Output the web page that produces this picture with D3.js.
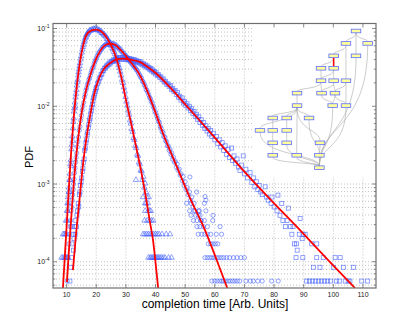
<!DOCTYPE html>
<html lang="en">
<head>
<meta charset="UTF-8">
<title>PDF of completion time</title>
<script src="https://d3js.org/d3.v7.min.js"></script>
<style>
  body { margin: 0; background: #fff; }
  text { font-family: "Liberation Sans", Arial, sans-serif; }
</style>
</head>
<body>
<div id="my_chart"></div>
<script>
// ---- data ----
var xTicks = [10, 20, 30, 40, 50, 60, 70, 80, 90, 100, 110];
var yExponents = [-4, -3, -2, -1];

// fitted curves [time, pdf]
var fitA = [[8.75,4.57e-5],[9.5,1.38e-4],[10.5,6.03e-4],[11.5,2.51e-3],[12.5,7.94e-3],[13.5,1.91e-2],
  [14.5,3.72e-2],[15.5,5.89e-2],[16.6,8.13e-2],[18.2,9.38e-2],[20,9.70e-2],[21.58,9.23e-2],[23.37,7.80e-2],
  [24.79,6.28e-2],[26.2,4.78e-2],[28.43,2.39e-2],[30.02,1.20e-2],[32.05,5.37e-3],[33.57,2.85e-3],
  [35.08,1.51e-3],[36.6,7.24e-4],[38.12,3.24e-4],[39.14,1.91e-4],[39.9,1.07e-4],[40.65,5.62e-5],[40.9,4.57e-5]];
var fitB = [[10.1,5.48e-5],[10.78,1.41e-4],[11.62,3.98e-4],[12.63,1.30e-3],[13.81,3.66e-3],[15.1,8.39e-3],
  [16.52,1.58e-2],[18.31,2.75e-2],[19.72,3.89e-2],[21.14,5.01e-2],[22.59,5.92e-2],[24.52,6.41e-2],
  [26.31,6.19e-2],[27.89,5.47e-2],[30.02,4.42e-2],[32.38,3.39e-2],[34.1,2.75e-2],[36,2.00e-2],[38,1.32e-2],
  [40.25,7.76e-3],[42.51,4.47e-3],[45,2.63e-3],[47.24,1.65e-3],[51.63,6.59e-4],[56.69,2.55e-4],
  [60.41,1.11e-4],[64.22,4.59e-5]];
var fitC = [[12.13,7.82e-5],[13.14,2.20e-4],[14.32,6.21e-4],[15.5,1.75e-3],[16.68,3.89e-3],[17.97,7.69e-3],
  [19.39,1.47e-2],[21.14,2.39e-2],[22.76,3.09e-2],[24.52,3.55e-2],[26.64,3.97e-2],[29.01,4.11e-2],
  [31.71,3.97e-2],[34.65,3.72e-2],[37.45,3.18e-2],[40.25,2.64e-2],[44.77,1.77e-2],[49.26,1.14e-2],
  [58.38,4.65e-3],[69.52,1.51e-3],[78.64,6.40e-4],[88.77,2.55e-4],[98.89,9.91e-5],[107.33,4.59e-5]];

// measured histograms [time, pdf]
var triA = [[8.3,1.13e-4],[8.8,1.13e-4],[8.8,2.26e-4],[9.2,2.26e-4],[9.3,1.13e-4],[9.6,1.13e-4],[9.6,2.26e-4],
  [9.8,3.39e-4],[10.0,1.13e-4],[10.0,2.26e-4],[10.1,4.52e-4],[10.2,3.39e-4],[10.3,5.65e-4],[10.4,1.13e-4],
  [10.4,4.52e-4],[10.5,6.78e-4],[10.6,5.65e-4],[10.7,7.91e-4],[10.8,9.04e-4],[10.9,7.91e-4],[11.0,1.13e-3],
  [11.1,1.36e-3],[11.2,1.13e-3],[11.3,1.81e-3],[11.4,2.03e-3],[11.5,1.7e-3],[11.6,2.8e-3],[11.75,3.2e-3],
  [11.9,4.1e-3],[12.0,3.6e-3],[12.1,5.2e-3],[12.25,6.3e-3],[12.4,7.0e-3],[12.5,8.6e-3],[12.65,9.5e-3],
  [12.8,1.12e-2],[12.9,1.0e-2],[13.0,1.3e-2],[13.15,1.45e-2],[13.3,1.62e-2],[13.45,1.85e-2],[13.6,2.05e-2],
  [13.75,2.2e-2],[13.9,2.5e-2],[14.05,2.75e-2],[14.2,3.0e-2],[14.35,3.3e-2],[14.5,3.6e-2],[14.7,4.0e-2],
  [14.9,4.4e-2],[15.1,4.9e-2],[15.3,5.4e-2],[15.5,5.8e-2],[15.7,6.2e-2],[15.9,6.7e-2],[16.1,7.0e-2],
  [16.3,7.5e-2],[16.5,7.8e-2],[16.7,8.2e-2],[16.9,8.5e-2],[17.1,8.8e-2],[17.3,8.9e-2],[17.6,9.2e-2],
  [17.9,9.5e-2],[18.2,9.4e-2],[18.5,9.7e-2],[18.8,9.6e-2],[19.1,9.9e-2],[19.4,9.7e-2],[19.7,1.0e-1],
  [20.0,9.7e-2],[20.3,9.9e-2],[20.6,9.5e-2],[20.9,9.6e-2],[21.2,9.2e-2],[21.5,9.3e-2],[21.8,8.8e-2],
  [22.1,8.8e-2],[22.4,8.4e-2],[22.7,8.4e-2],[23.0,8.0e-2],[23.3,7.9e-2],[23.6,7.4e-2],[23.9,7.3e-2],
  [24.2,6.8e-2],[24.5,6.7e-2],[24.8,6.2e-2],[25.1,6.0e-2],[25.4,5.6e-2],[25.7,5.4e-2],[26.0,5.0e-2],
  [26.3,4.7e-2],[26.6,4.3e-2],[26.9,4.0e-2],[27.2,3.7e-2],[27.5,3.4e-2],[27.8,3.1e-2],[28.1,2.8e-2],
  [28.4,2.5e-2],[28.7,2.2e-2],[29.0,2.0e-2],[29.3,1.75e-2],[29.6,1.55e-2],[29.9,1.32e-2],[30.2,1.15e-2],
  [30.5,1.02e-2],[30.8,8.8e-3],[31.1,7.8e-3],[31.4,6.6e-3],[31.7,6.0e-3],[32.0,5.1e-3],[32.3,4.7e-3],
  [32.6,3.9e-3],[32.9,3.7e-3],[33.2,3.1e-3],[33.5,2.9e-3],[33.8,2.4e-3],[34.1,2.3e-3],[34.4,1.9e-3],
  [34.7,1.8e-3],[35.0,1.5e-3],[35.3,1.47e-3],[35.6,1.13e-3],[35.9,1.24e-3],[36.2,9.04e-4],[36.5,1.02e-3],
  [36.8,7.91e-4],[37.1,6.78e-4],[37.4,5.65e-4],[37.7,6.78e-4],[38.0,4.52e-4],[33.4,1.13e-3],
  [35.8,6.78e-4],[36.5,5.65e-4],[36.8,5.65e-4],[36.3,3.39e-4],[37.2,3.39e-4],[38.0,3.39e-4],[38.6,3.39e-4],
  [39.2,3.39e-4],[36.5,4.52e-4],[37.5,4.52e-4],[38.4,4.52e-4],
  [35.8,2.26e-4],[36.4,2.26e-4],[37.0,2.26e-4],[37.6,2.26e-4],[38.2,2.26e-4],[38.8,2.26e-4],[39.4,2.26e-4],
  [40.0,2.26e-4],[40.6,2.26e-4],[41.2,2.26e-4],[42.2,2.26e-4],[43.6,2.26e-4],[44.9,2.26e-4],
  [37.6,1.13e-4],[38.2,1.13e-4],[38.6,1.13e-4],[39.0,1.13e-4],[39.4,1.13e-4],[39.8,1.13e-4],[40.2,1.13e-4],
  [40.6,1.13e-4],[41.0,1.13e-4],[41.5,1.13e-4],[42.0,1.13e-4],[42.6,1.13e-4],[43.2,1.13e-4],[44.4,1.13e-4],
  [45.4,1.13e-4]];

var circB = [[10.2,5.65e-5],[10.5,1.13e-4],[10.8,1.7e-4],[11.0,2.26e-4],[11.2,2.83e-4],[11.35,3.39e-4],
  [11.5,4.52e-4],[11.7,5.08e-4],[11.85,6.2e-4],[12.0,7.3e-4],[12.2,8.5e-4],[12.35,1.0e-3],[12.5,1.15e-3],
  [12.7,1.4e-3],[12.85,1.6e-3],[13.0,1.9e-3],[13.2,2.2e-3],[13.4,2.5e-3],[13.6,3.0e-3],[13.8,3.5e-3],
  [14.0,4.0e-3],[14.25,4.9e-3],[14.5,5.5e-3],[14.75,6.6e-3],[15.0,7.6e-3],[15.25,8.9e-3],[15.5,1.0e-2],
  [15.75,1.12e-2],[16.0,1.3e-2],[16.25,1.42e-2],[16.5,1.6e-2],[16.75,1.72e-2],[17.0,1.9e-2],[17.25,2.0e-2],
  [17.5,2.2e-2],[17.75,2.3e-2],[18.0,2.5e-2],[18.25,2.7e-2],[18.5,2.85e-2],[18.75,3.1e-2],[19.0,3.2e-2],
  [19.25,3.5e-2],[19.5,3.7e-2],[19.75,3.9e-2],[20.0,4.1e-2],[20.3,4.4e-2],[20.6,4.6e-2],[20.9,4.9e-2],
  [21.2,5.0e-2],[21.5,5.3e-2],[21.8,5.4e-2],[22.1,5.7e-2],[22.4,5.8e-2],[22.7,6.0e-2],[23.0,6.1e-2],
  [23.3,6.3e-2],[23.6,6.2e-2],[23.9,6.5e-2],[24.2,6.3e-2],[24.5,6.6e-2],[24.8,6.3e-2],[25.1,6.5e-2],
  [25.4,6.2e-2],[25.7,6.4e-2],[26.0,6.1e-2],[26.3,6.3e-2],[26.6,5.9e-2],[26.9,6.0e-2],[27.2,5.7e-2],
  [27.5,5.7e-2],[27.8,5.4e-2],[28.1,5.5e-2],[28.4,5.1e-2],[28.7,5.1e-2],[29.0,4.8e-2],[29.3,4.8e-2],
  [29.6,4.5e-2],[29.9,4.5e-2],[30.2,4.3e-2],[30.5,4.2e-2],[30.8,4.0e-2],[31.1,4.0e-2],[31.4,3.7e-2],
  [31.7,3.7e-2],[32.0,3.5e-2],[32.3,3.4e-2],[32.6,3.3e-2],[32.9,3.2e-2],[33.2,3.1e-2],[33.5,2.95e-2],
  [33.8,2.9e-2],[34.1,2.75e-2],[34.4,2.6e-2],[34.7,2.5e-2],[35.0,2.35e-2],[35.3,2.3e-2],[35.6,2.1e-2],
  [35.9,2.05e-2],[36.2,1.9e-2],[36.5,1.8e-2],[36.8,1.65e-2],[37.1,1.6e-2],[37.4,1.5e-2],[37.7,1.4e-2],
  [38.0,1.3e-2],[38.3,1.25e-2],[38.6,1.15e-2],[38.9,1.1e-2],[39.2,1.0e-2],[39.5,9.5e-3],[39.8,8.6e-3],
  [40.1,8.2e-3],[40.4,7.5e-3],[40.7,7.0e-3],[41.0,6.4e-3],[41.3,6.2e-3],[41.6,5.5e-3],[41.9,5.2e-3],
  [42.2,4.7e-3],[42.5,4.6e-3],[42.8,4.1e-3],[43.1,4.0e-3],[43.4,3.6e-3],[43.7,3.5e-3],[44.0,3.1e-3],
  [44.3,3.1e-3],[44.6,2.7e-3],[44.9,2.8e-3],[45.2,2.4e-3],[45.5,2.5e-3],[45.8,2.1e-3],[46.1,2.2e-3],
  [46.4,1.9e-3],[46.7,1.95e-3],[47.0,1.65e-3],[47.3,1.8e-3],[47.6,1.5e-3],[48.0,1.55e-3],[48.3,1.3e-3],
  [48.6,1.35e-3],[49.0,1.1e-3],[49.3,1.25e-3],[49.6,9.6e-4],[50.0,1.07e-3],[50.3,8.5e-4],[50.7,9.0e-4],
  [51.0,7.3e-4],[51.4,7.9e-4],[51.6,1.23e-3],[51.8,6.2e-4],[52.2,6.8e-4],[52.6,5.1e-4],[53.0,5.65e-4],
  [53.4,4.52e-4],[53.9,7.9e-4],[54.4,3.96e-4],[54.8,4.52e-4],[55.3,3.39e-4],[56.7,6.9e-4],[57.0,6.2e-4],
  [59.4,3.96e-4],[61.8,2.83e-4],
  [50.5,5.65e-4],[52.0,5.65e-4],[56.5,5.65e-4],[51.5,4.52e-4],[53.0,4.52e-4],[54.5,4.52e-4],[57.0,4.52e-4],
  [52.0,3.96e-4],[53.5,3.96e-4],[55.0,3.96e-4],[52.8,3.39e-4],[54.0,3.39e-4],[55.4,3.39e-4],[56.5,3.39e-4],
  [59.3,3.39e-4],[54.0,2.83e-4],[55.0,2.83e-4],[56.2,2.83e-4],[57.5,2.83e-4],
  [54.4,2.26e-4],[55.6,2.26e-4],[56.6,2.26e-4],[57.5,2.26e-4],[58.6,2.26e-4],[60.5,2.26e-4],[62.3,2.26e-4],
  [57.8,1.7e-4],[58.6,1.7e-4],[59.4,1.7e-4],[60.2,1.7e-4],[61.0,1.7e-4],
  [56.7,1.13e-4],[57.5,1.13e-4],[58.3,1.13e-4],[59.0,1.13e-4],[59.8,1.13e-4],[60.6,1.13e-4],[61.4,1.13e-4],
  [62.2,1.13e-4],[63.0,1.13e-4],[64.0,1.13e-4],[65.0,1.13e-4],[66.3,1.13e-4],[67.5,1.13e-4],[68.8,1.13e-4],
  [70.0,1.13e-4],
  [59.0,5.65e-5],[60.0,5.65e-5],[60.8,5.65e-5],[61.7,5.65e-5],[62.4,5.65e-5],[63.0,5.65e-5],[63.7,5.65e-5],
  [64.5,5.65e-5],[65.2,5.65e-5],[66.0,5.65e-5],[66.8,5.65e-5],[67.6,5.65e-5],[68.4,5.65e-5],[70.5,5.65e-5],
  [72.0,5.65e-5],[73.0,5.65e-5],[74.5,5.65e-5],[76.0,5.65e-5],[79.2,5.65e-5],[81.4,5.65e-5]];

var sqC = [[11.1,5.65e-5],[11.4,8.5e-5],[11.6,1.13e-4],[11.8,1.7e-4],[11.7,2.83e-4],[12.1,2.26e-4],
  [12.3,1.41e-4],[12.5,1.98e-4],[12.7,2.83e-4],[12.9,2.26e-4],[13.1,3.39e-4],[13.3,2.83e-4],[13.5,3.96e-4],
  [13.7,4.52e-4],[13.9,5.65e-4],[14.1,5.08e-4],[14.3,7.3e-4],[14.5,7.9e-4],[14.7,9.6e-4],[14.9,1.07e-3],
  [15.1,1.2e-3],[15.3,1.45e-3],[15.5,1.6e-3],[15.7,1.9e-3],[15.9,2.1e-3],[16.1,2.7e-3],[16.3,2.9e-3],
  [16.5,3.4e-3],[16.7,3.7e-3],[16.9,4.3e-3],[17.1,4.6e-3],[17.3,5.3e-3],[17.5,5.8e-3],[17.7,6.6e-3],
  [17.9,7.0e-3],[18.1,8.0e-3],[18.3,8.7e-3],[18.5,9.7e-3],[18.7,1.05e-2],[18.9,1.17e-2],[19.1,1.28e-2],
  [19.3,1.36e-2],[19.5,1.47e-2],[19.7,1.55e-2],[19.9,1.68e-2],[20.1,1.75e-2],[20.4,1.95e-2],[20.7,2.05e-2],
  [21.0,2.25e-2],[21.3,2.35e-2],[21.6,2.55e-2],[21.9,2.6e-2],[22.2,2.85e-2],[22.5,2.9e-2],[22.8,3.1e-2],
  [23.1,3.1e-2],[23.4,3.3e-2],[23.7,3.3e-2],[24.0,3.5e-2],[24.3,3.45e-2],[24.6,3.7e-2],[24.9,3.6e-2],
  [25.2,3.8e-2],[25.5,3.75e-2],[25.8,3.95e-2],[26.1,3.85e-2],[26.4,4.05e-2],[26.7,3.95e-2],[27.0,4.15e-2],
  [27.3,4.0e-2],[27.6,4.2e-2],[27.9,4.05e-2],[28.2,4.25e-2],[28.5,4.05e-2],[28.8,4.25e-2],[29.1,4.0e-2],
  [29.4,4.2e-2],[29.7,4.05e-2],[30.0,4.2e-2],[30.3,3.98e-2],[30.6,4.15e-2],[30.9,3.95e-2],[31.2,4.1e-2],
  [31.5,3.9e-2],[31.8,4.05e-2],[32.1,3.85e-2],[32.4,4.0e-2],[32.7,3.8e-2],[33.0,3.95e-2],[33.3,3.75e-2],
  [33.6,3.85e-2],[33.9,3.65e-2],[34.2,3.8e-2],[34.5,3.6e-2],[34.8,3.75e-2],[35.1,3.5e-2],[35.4,3.6e-2],
  [35.7,3.4e-2],[36.0,3.5e-2],[36.3,3.3e-2],[36.6,3.4e-2],[36.9,3.2e-2],[37.2,3.3e-2],[37.5,3.1e-2],
  [37.8,3.15e-2],[38.1,2.95e-2],[38.4,3.05e-2],[38.7,2.85e-2],[39.0,2.95e-2],[39.3,2.75e-2],[39.6,2.8e-2],
  [39.9,2.6e-2],[40.2,2.7e-2],[40.6,2.5e-2],[41.0,2.55e-2],[41.4,2.35e-2],[41.8,2.4e-2],[42.2,2.2e-2],
  [42.6,2.25e-2],[43.0,2.05e-2],[43.4,2.1e-2],[43.8,1.9e-2],[44.2,1.95e-2],[44.6,1.8e-2],[45.0,1.85e-2],
  [45.4,1.65e-2],[45.8,1.7e-2],[46.2,1.55e-2],[46.6,1.6e-2],[47.0,1.42e-2],[47.4,1.5e-2],[47.8,1.3e-2],
  [48.2,1.35e-2],[48.6,1.2e-2],[49.0,1.28e-2],[49.4,1.1e-2],[49.8,1.15e-2],[50.2,1.02e-2],[50.6,1.08e-2],
  [51.0,9.5e-3],[51.4,1.0e-2],[51.8,8.8e-3],[52.2,9.3e-3],[52.6,8.1e-3],[53.0,8.6e-3],[53.4,7.4e-3],
  [53.8,7.9e-3],[54.2,6.8e-3],[54.6,7.3e-3],[55.0,6.2e-3],[55.4,6.7e-3],[55.8,5.7e-3],[56.2,6.2e-3],
  [56.6,5.2e-3],[57.0,5.6e-3],[57.4,4.8e-3],[57.8,5.2e-3],[58.2,4.4e-3],[58.6,4.9e-3],[59.0,4.1e-3],
  [59.5,4.5e-3],[60.0,3.7e-3],[60.5,4.1e-3],[61.0,3.3e-3],[61.5,3.7e-3],[62.0,3.0e-3],[62.5,3.4e-3],
  [63.0,2.7e-3],[63.5,3.1e-3],[64.0,2.4e-3],[64.5,2.8e-3],[65.0,2.2e-3],[65.7,2.9e-3],[66.0,2.0e-3],
  [66.5,2.3e-3],[67.0,1.85e-3],[67.5,2.1e-3],[68.0,1.65e-3],[68.5,1.5e-3],[69.0,1.75e-3],[69.6,2.3e-3],
  [70.0,1.35e-3],[70.5,1.55e-3],[71.0,1.2e-3],[71.9,1.4e-3],[72.5,1.05e-3],[73.0,1.2e-3],[73.5,9.2e-4],
  [74.0,1.07e-3],[74.5,8.5e-4],[75.0,9.6e-4],[75.5,7.9e-4],[76.0,7.3e-4],[77.0,9.2e-4],[77.5,6.8e-4],
  [78.0,6.2e-4],[79.0,5.65e-4],[79.3,6.8e-4],[80.0,5.08e-4],[81.3,7.2e-4],[81.0,4.52e-4],[82.0,3.96e-4],
  [82.6,5.6e-4],[83.0,3.39e-4],[83.8,2.83e-4],[84.4,3.39e-4],[84.8,4.9e-4],[85.5,2.83e-4],[86.0,2.26e-4],
  [86.4,2.83e-4],[86.9,1.7e-4],[87.4,1.13e-4],[87.6,1.7e-4],[87.8,1.41e-4],[88.5,2.26e-4],[88.8,3.6e-4],
  [89.5,1.98e-4],[89.7,1.13e-4],[89.8,2.26e-4],[90.5,2.26e-4],[92.7,1.7e-4],[93.3,8.5e-5],[94.4,1.13e-4],
  [94.4,1.7e-4],[95.5,8.5e-5],[96.6,1.13e-4],[100.0,8.5e-5],[100.6,1.13e-4],[102.3,1.13e-4],[103.4,8.5e-5],
  [106.8,8.5e-5],
  [91.0,5.65e-5],[92.0,5.65e-5],[93.0,5.65e-5],[94.0,5.65e-5],[95.0,5.65e-5],[96.0,5.65e-5],[97.0,5.65e-5],
  [98.0,5.65e-5],[99.0,5.65e-5],[101.0,5.65e-5],[102.0,5.65e-5],[104.0,5.65e-5],[105.0,5.65e-5],
  [105.6,5.65e-5],[109.6,5.65e-5],[111.6,5.65e-5]];

// inset task graph: [id, column, row] and [from, to]
var nodes = [[0,88.9,0],[1,79.6,1],[2,99.7,1],[3,68.2,2],[4,88.9,2],[5,56.5,3],[6,68.2,3],
  [7,56.5,4],[8,68.2,4],[9,79.6,4],[10,34.3,5],[11,57,5],[12,69.4,5],[13,34.3,6],[14,67.3,6],[15,79.6,6],
  [16,11.8,7],[17,24.7,7],[18,45.4,7],[19,0,8],[20,11.8,8],[21,24.7,8],[22,11.8,9],[23,24.7,9],[24,55.6,9],
  [25,11.8,10],[26,34,10],[27,55,10],[28,55,11]];
var edges = [[0,1],[0,2],[0,4],[1,3],[1,9],[3,5],[3,6],[5,7],[6,8],[6,7],[7,10],[7,11],[8,11],[8,12],
  [9,12],[9,15],[11,14],[12,14],[12,15],[10,13],[13,16],[13,17],[13,18],[13,19],[13,26],[13,24],
  [16,20],[17,21],[20,22],[21,23],[22,25],[18,27],[24,27],
  [19,28],[25,28],[23,28],[26,28],[27,28],[14,28],[15,28],[4,28],[2,28]];
var redEdge = [3, 6];

// ---- layout ----
var width = 415, height = 325;
var plot = {left: 53, right: 376, top: 23.5, bottom: 288};

var svg = d3.select("#my_chart")
  .append("svg")
    .attr("width", width)
    .attr("height", height);

svg.append("rect").attr("width", width).attr("height", height).attr("fill", "#fff");

var x = d3.scaleLinear().domain([5.4, 114.4]).range([plot.left, plot.right]);
var y = d3.scaleLog().domain([4.6e-5, 0.116]).range([plot.bottom, plot.top]);

svg.append("clipPath").attr("id", "clip")
  .append("rect")
    .attr("x", plot.left).attr("y", plot.top)
    .attr("width", plot.right - plot.left).attr("height", plot.bottom - plot.top);

// grid
var yGrid = y.ticks();
var grid = svg.append("g")
  .attr("stroke", "#a8a8a8").attr("stroke-width", 0.7).attr("stroke-dasharray", "1,2");
grid.selectAll(".gx").data(xTicks).enter().append("line")
  .attr("x1", d => x(d)).attr("x2", d => x(d))
  .attr("y1", plot.top).attr("y2", plot.bottom);
grid.selectAll(".gy").data(yGrid).enter().append("line")
  .attr("x1", plot.left).attr("x2", plot.right)
  .attr("y1", d => y(d)).attr("y2", d => y(d));

// inset graph
var ix = d3.scaleLinear().domain([0, 100]).range([260, 368]);
var iy = d3.scaleLinear().domain([0, 11]).range([31, 167.7]);
var nodeW = 9.5, nodeH = 3.6;
var inset = svg.append("g");
inset.append("rect")
  .attr("x", 252).attr("y", plot.top + 1)
  .attr("width", plot.right - 253).attr("height", 176 - plot.top)
  .attr("fill", "#fff");

function edgePath(e) {
  var s = nodes[e[0]], t = nodes[e[1]];
  var sx = ix(s[1]), sy = iy(s[2]) + nodeH / 2;
  var tx = ix(t[1]), ty = iy(t[2]) - nodeH / 2;
  var dy = ty - sy;
  return "M" + sx + "," + sy + "C" + sx + "," + (sy + dy * 0.7) + " " + tx + "," + (ty - dy * 0.35) + " " + tx + "," + ty;
}
inset.selectAll(".edge").data(edges).enter().append("path")
  .attr("d", edgePath)
  .attr("fill", "none")
  .attr("stroke", d => (d[0] === redEdge[0] && d[1] === redEdge[1]) ? "#ff0000" : "#a9a9a9")
  .attr("stroke-width", d => (d[0] === redEdge[0] && d[1] === redEdge[1]) ? 1.6 : 0.6);
inset.selectAll(".node").data(nodes).enter().append("rect")
  .attr("x", d => ix(d[1]) - nodeW / 2)
  .attr("y", d => iy(d[2]) - nodeH / 2)
  .attr("width", nodeW).attr("height", nodeH)
  .attr("fill", "#ffff9c")
  .attr("stroke", "#5b6cff")
  .attr("stroke-width", 0.8);

// markers
var marks = svg.append("g").attr("clip-path", "url(#clip)")
  .attr("fill", "none").attr("stroke", "#3f5cff")
  .attr("stroke-opacity", 0.75).attr("stroke-width", 0.75);

var tri = d3.symbol().type(d3.symbolTriangle).size(13);
marks.selectAll(".tri").data(triA).enter().append("path")
  .attr("d", tri)
  .attr("transform", d => "translate(" + x(d[0]) + "," + y(d[1]) + ")");
marks.selectAll(".circ").data(circB).enter().append("circle")
  .attr("cx", d => x(d[0])).attr("cy", d => y(d[1])).attr("r", 2.1);
marks.selectAll(".sq").data(sqC).enter().append("rect")
  .attr("x", d => x(d[0]) - 2).attr("y", d => y(d[1]) - 2)
  .attr("width", 4).attr("height", 4);

// fitted curves
var line = d3.line()
  .x(d => x(d[0]))
  .y(d => y(d[1]))
  .curve(d3.curveMonotoneX);
svg.append("g").attr("clip-path", "url(#clip)")
  .selectAll(".fit").data([fitA, fitB, fitC]).enter().append("path")
    .attr("d", line)
    .attr("fill", "none")
    .attr("stroke", "#ff0000")
    .attr("stroke-width", 1.8);

// frame and ticks
var axisColor = "#6e6e6e";
svg.append("rect")
  .attr("x", plot.left).attr("y", plot.top)
  .attr("width", plot.right - plot.left).attr("height", plot.bottom - plot.top)
  .attr("fill", "none").attr("stroke", axisColor).attr("stroke-width", 1.2);

var ticks = svg.append("g").attr("stroke", axisColor).attr("stroke-width", 0.8);
xTicks.forEach(function(t) {
  ticks.append("line").attr("x1", x(t)).attr("x2", x(t)).attr("y1", plot.bottom).attr("y2", plot.bottom - 4);
  ticks.append("line").attr("x1", x(t)).attr("x2", x(t)).attr("y1", plot.top).attr("y2", plot.top + 4);
});
yGrid.forEach(function(t) {
  var major = Math.abs(Math.log10(t) - Math.round(Math.log10(t))) < 1e-6;
  var len = major ? 4 : 2.2;
  ticks.append("line").attr("x1", plot.left).attr("x2", plot.left + len).attr("y1", y(t)).attr("y2", y(t));
  ticks.append("line").attr("x1", plot.right).attr("x2", plot.right - len).attr("y1", y(t)).attr("y2", y(t));
});

// tick labels
svg.append("g").selectAll("text").data(xTicks).enter().append("text")
  .attr("x", d => x(d)).attr("y", 297)
  .attr("text-anchor", "middle")
  .attr("font-size", 7).attr("fill", "#222")
  .text(d => d);

var yl = svg.append("g").selectAll("text").data(yExponents).enter().append("text")
  .attr("x", 49.5).attr("y", d => y(Math.pow(10, d)) + 2.5)
  .attr("text-anchor", "end")
  .attr("font-size", 7).attr("fill", "#222");
yl.append("tspan").text("10");
yl.append("tspan").attr("dy", -3).attr("font-size", 5).text(d => d);

// axis titles
svg.append("text")
  .attr("x", 215).attr("y", 308)
  .attr("text-anchor", "middle")
  .attr("font-size", 12).attr("fill", "#000")
  .text("completion time [Arb. Units]");
svg.append("text")
  .attr("transform", "translate(33,157) rotate(-90)")
  .attr("text-anchor", "middle")
  .attr("font-size", 11).attr("fill", "#000")
  .text("PDF");
</script>
</body>
</html>
